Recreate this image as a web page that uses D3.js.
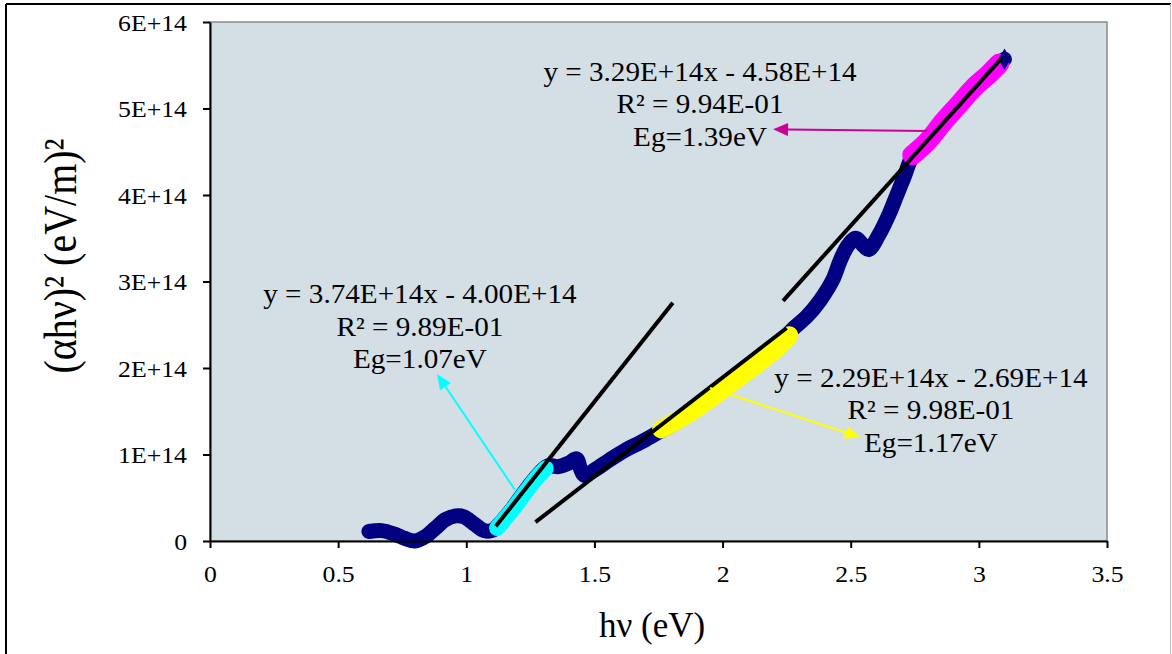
<!DOCTYPE html>
<html>
<head>
<meta charset="utf-8">
<script src="https://cdn.jsdelivr.net/npm/d3@7"></script>
<style>
  html, body { margin: 0; padding: 0; background: #fff; }
  text { font-family: "Liberation Serif", "Times New Roman", serif; fill: #000; }
</style>
</head>
<body>
<div id="main"></div>
<script>
// photon energy (eV) and (alpha h nu)^2 in units of 1E+14 (eV/m)^2
var navyX = [0.62, 0.67, 0.72, 0.76, 0.80, 0.84, 0.88, 0.92, 0.96, 0.99, 1.03, 1.07, 1.10,
  1.13, 1.17, 1.21, 1.25, 1.29, 1.32, 1.36, 1.40, 1.43, 1.445, 1.46, 1.50, 1.56, 1.62, 1.68,
  1.74, 1.80, 1.90, 2.00, 2.10, 2.20, 2.27, 2.33, 2.38, 2.43, 2.46, 2.49, 2.52, 2.545, 2.57,
  2.61, 2.65, 2.68, 2.71, 2.74, 2.80, 2.86, 2.92, 2.98, 3.04, 3.10]
var navyY = [0.11, 0.12, 0.08, 0.03, 0.00, 0.05, 0.15, 0.25, 0.29, 0.28, 0.20, 0.12, 0.12,
  0.20, 0.34, 0.50, 0.66, 0.80, 0.87, 0.86, 0.90, 0.95, 0.84, 0.76, 0.82, 0.94, 1.05, 1.14,
  1.24, 1.34, 1.54, 1.76, 1.98, 2.21, 2.44, 2.60, 2.78, 3.02, 3.25, 3.42, 3.50, 3.43, 3.37,
  3.54, 3.78, 4.00, 4.22, 4.44, 4.62, 4.84, 5.04, 5.24, 5.40, 5.57]

var cyanX = [1.12, 1.16, 1.20, 1.24, 1.28, 1.31]
var cyanY = [0.15, 0.29, 0.44, 0.60, 0.75, 0.84]

var yellowX = [1.76, 1.85, 1.95, 2.05, 2.15, 2.22, 2.26]
var yellowY = [1.29, 1.44, 1.64, 1.86, 2.08, 2.25, 2.38]

var magentaX = [2.74, 2.80, 2.86, 2.92, 2.98, 3.04, 3.08]
var magentaY = [4.46, 4.62, 4.84, 5.04, 5.24, 5.40, 5.52]

// linear fits: slope, intercept (1E+14), drawn x range
var fitSlope = [3.74, 2.29, 3.29]
var fitIntercept = [-4.00, -2.69, -4.58]
var fitFrom = [1.115, 1.27, 2.236]
var fitTo = [1.806, 2.25, 3.09]

var xTicks = [0, 0.5, 1, 1.5, 2, 2.5, 3, 3.5]
var xTickLabels = ["0", "0.5", "1", "1.5", "2", "2.5", "3", "3.5"]
var yTicks = [0, 1, 2, 3, 4, 5, 6]
var yTickLabels = ["0", "1E+14", "2E+14", "3E+14", "4E+14", "5E+14", "6E+14"]

var annotations = [
  { lines: ["y = 3.74E+14x - 4.00E+14", "R\u00b2 = 9.89E-01", "Eg=1.07eV"], x: 0.819, y: 2.75 },
  { lines: ["y = 2.29E+14x - 2.69E+14", "R\u00b2 = 9.98E-01", "Eg=1.17eV"], x: 2.813, y: 1.784 },
  { lines: ["y = 3.29E+14x - 4.58E+14", "R\u00b2 = 9.94E-01", "Eg=1.39eV"], x: 1.912, y: 5.32 }
]
// arrows: tail -> tip in data units
var arrows = [
  { x1: 1.19, y1: 0.59, x2: 0.886, y2: 1.93, color: "#00ffff" },
  { x1: 1.951, y1: 1.77, x2: 2.536, y2: 1.20, color: "#ffff00" },
  { x1: 2.798, y1: 4.74, x2: 2.197, y2: 4.76, color: "#cc0099" }
]

var W = 1172, H = 654
var margin = { top: 22, left: 210, right: 65, bottom: 113 }
var w = W - margin.left - margin.right,
  h = H - margin.top - margin.bottom

var svg = d3.select("#main").append("svg")
  .attr("width", W)
  .attr("height", H)

// outer frame
svg.append("line").attr("x1", 6).attr("y1", 4).attr("x2", 1171).attr("y2", 4)
  .attr("stroke", "#000").attr("stroke-width", 2)
svg.append("line").attr("x1", 6).attr("y1", 4).attr("x2", 6).attr("y2", H)
  .attr("stroke", "#000").attr("stroke-width", 2)
svg.append("line").attr("x1", 1170.5).attr("y1", 4).attr("x2", 1170.5).attr("y2", H)
  .attr("stroke", "#bbb").attr("stroke-width", 1)

var g = svg.append("g").attr("transform", "translate(" + margin.left + "," + margin.top + ")")

var x = d3.scaleLinear().domain([0, 3.5]).range([0, w])
var y = d3.scaleLinear().domain([0, 6]).range([h, 0])

g.append("rect").attr("width", w).attr("height", h)
  .attr("fill", "#d4dee5").attr("stroke", "#8c8c8c").attr("stroke-width", 1.5)

var line = d3.line()
  .x(function(d) { return x(d[0]) })
  .y(function(d) { return y(d[1]) })
  .curve(d3.curveCatmullRom.alpha(0.5))

function series(xs, ys, color, width) {
  g.append("path")
    .datum(d3.zip(xs, ys))
    .attr("d", line)
    .attr("fill", "none")
    .attr("stroke", color)
    .attr("stroke-width", width)
    .attr("stroke-linejoin", "round")
    .attr("stroke-linecap", "round")
}

series(navyX, navyY, "#000080", 15)
series(cyanX, cyanY, "#00ffff", 16)
series(yellowX, yellowY, "#ffff00", 18)
series(magentaX, magentaY, "#ff00ff", 20)

// top end marker of the main series
g.append("path")
  .attr("d", d3.symbol().type(d3.symbolDiamond).size(130))
  .attr("transform", "translate(" + x(navyX[navyX.length - 1]) + "," + y(navyY[navyY.length - 1]) + ")")
  .attr("fill", "#000080")

// fit lines
fitSlope.forEach(function(m, i) {
  g.append("line")
    .attr("x1", x(fitFrom[i])).attr("y1", y(m * fitFrom[i] + fitIntercept[i]))
    .attr("x2", x(fitTo[i])).attr("y2", y(m * fitTo[i] + fitIntercept[i]))
    .attr("stroke", "#000").attr("stroke-width", 4)
})

// arrows
arrows.forEach(function(a) {
  var px1 = x(a.x1), py1 = y(a.y1), px2 = x(a.x2), py2 = y(a.y2)
  var ang = Math.atan2(py2 - py1, px2 - px1)
  var len = 15, half = 6.5
  var bx = px2 - len * Math.cos(ang), by = py2 - len * Math.sin(ang)
  g.append("line")
    .attr("x1", px1).attr("y1", py1).attr("x2", bx).attr("y2", by)
    .attr("stroke", a.color).attr("stroke-width", 2)
  g.append("path")
    .attr("d", "M" + px2 + "," + py2 +
      "L" + (bx + half * Math.sin(ang)) + "," + (by - half * Math.cos(ang)) +
      "L" + (bx - half * Math.sin(ang)) + "," + (by + half * Math.cos(ang)) + "Z")
    .attr("fill", a.color)
})

// annotation text
annotations.forEach(function(a) {
  a.lines.forEach(function(t, i) {
    g.append("text")
      .attr("transform", "translate(" + x(a.x) + "," + (y(a.y) + i * 32.5) + ") scale(1.08,1)")
      .attr("text-anchor", "middle")
      .style("font-size", "27px")
      .text(t)
  })
})

// axes
var xAxis = d3.axisBottom(x).tickValues(xTicks)
  .tickFormat(function(d, i) { return xTickLabels[i] })
  .tickSize(7).tickSizeOuter(0)
var yAxis = d3.axisLeft(y).tickValues(yTicks)
  .tickFormat(function(d, i) { return yTickLabels[i] })
  .tickSize(7).tickSizeOuter(0)

var gx = g.append("g").attr("transform", "translate(0," + h + ")").call(xAxis)
var gy = g.append("g").call(yAxis)

;[gx, gy].forEach(function(ax) {
  ax.select(".domain").attr("stroke", "#000").attr("stroke-width", 2)
  ax.selectAll(".tick line").attr("stroke", "#000").attr("stroke-width", 2)
  ax.selectAll(".tick text").style("font-size", "23px").style("font-family", "Liberation Serif")
})
gx.selectAll(".tick text").attr("y", 0).attr("dy", 0)
  .attr("transform", "translate(0,41) scale(1.12,1)")
gy.selectAll(".tick text").attr("x", 0).attr("dy", 0)
  .attr("text-anchor", "end")
  .attr("transform", "translate(-23,8) scale(1.12,1)")

// axis titles
svg.append("text")
  .attr("transform", "translate(652,637)")
  .attr("text-anchor", "middle")
  .style("font-size", "35px")
  .text("h\u03bd (eV)")

svg.append("text")
  .attr("transform", "translate(76,256) rotate(-90) scale(1,1.15)")
  .attr("text-anchor", "middle")
  .style("font-size", "40px")
  .text("(\u03b1h\u03bd)\u00b2 (eV/m)\u00b2")
</script>
</body>
</html>
